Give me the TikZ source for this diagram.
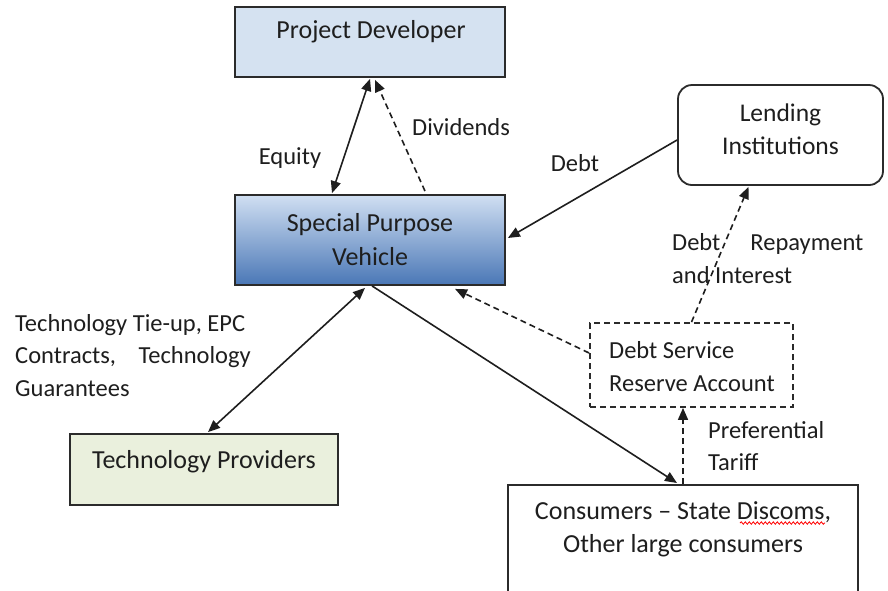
\documentclass[tikz,border=0pt]{standalone}
\usepackage{fontspec}
\setmainfont{Carlito}
\usetikzlibrary{arrows.meta,calc,decorations.pathmorphing}

\definecolor{ink}{HTML}{1E1E1E}
\definecolor{edge}{HTML}{2B2B2B}
\definecolor{pdfill}{HTML}{D5E2F1}
\definecolor{spvtop}{HTML}{D0DFF2}
\definecolor{spvbot}{HTML}{4A77B6}
\definecolor{techfill}{HTML}{EAF0DD}

\tikzset{
  box/.style={draw=edge, line width=1.8pt, rectangle, inner sep=0pt},
  txt/.style={text=ink, inner sep=0pt, font=\fontsize{24.5}{32.5}\selectfont},
  boxtxt/.style={txt, font=\fontsize{26}{34}\selectfont},
  flow/.style={draw=ink, line width=1.6pt, -{Triangle[length=12pt,width=10pt]}},
  twoway/.style={draw=ink, line width=1.6pt, {Triangle[length=12pt,width=10pt]}-{Triangle[length=12pt,width=10pt]}},
  cash/.style={flow, dash pattern=on 6pt off 4pt},
  spellmark/.style={draw=red, line width=0.8pt, decorate, decoration={snake, segment length=4pt, amplitude=1.2pt}},
}

\begin{document}
\begin{tikzpicture}[x=1pt,y=-1pt]
\useasboundingbox[fill=white] (0,0) rectangle (888,590);

% boxes
\node[box, fill=pdfill, minimum width=270pt, minimum height=70pt] (pd) at (370,42) {};
\node[box, top color=spvtop, bottom color=spvbot, minimum width=270pt, minimum height=90pt] (spv) at (370,240) {};
\node[box, fill=white, rounded corners=14pt, minimum width=205pt, minimum height=100pt] (lend) at (780.5,135) {};
\node[box, dashed, dash pattern=on 6pt off 4pt, minimum width=203pt, minimum height=84pt] (dsra) at (691.5,365) {};
\node[box, fill=techfill, minimum width=268pt, minimum height=71pt] (tech) at (204,469.5) {};
\node[box, fill=white, minimum width=350pt, minimum height=130pt, anchor=north] (cons) at (683,484) {};

% box texts
\node[boxtxt] (pdtxt) at (371,32) {Project Developer};
\node[boxtxt, align=center] (spvtxt) at (370,240) {Special Purpose\\Vehicle};
\node[boxtxt, font=\fontsize{25.5}{32.5}\selectfont, align=center] (lendtxt) at (780.5,129) {Lending\\Institutions};
\node[txt, align=left, anchor=west] (dsratxt) at (609,366.5) {Debt Service\\Reserve Account};
\node[boxtxt] (techtxt) at (204,462) {Technology Providers};
\node[boxtxt, font=\fontsize{26}{33}\selectfont, align=center] (constxt) at (683,529) {Consumers -- State Discoms,\\Other large consumers};
% red wavy mark under "Discoms"
\coordinate (waveA) at (740,523);
\coordinate (waveB) at (825,523);
\draw[spellmark] (waveA) -- (waveB);

% connectors
\draw[twoway] ($(pd.south)+(0,1)$) -- ($(spv.north)+(-38,-1)$);
\draw[cash] ($(spv.north)+(55,-3)$) -- ($(pd.south)+(5,2)$);
\draw[flow] ($(lend.west)+(0,5)$) -- ($(spv.east)+(2,-2)$);
\draw[cash] (dsra.north) -- ($(lend.south)+(-32,1)$);
\draw[cash] ($(dsra.west)+(0,-12)$) -- ($(spv.south)+(85,3)$);
\draw[twoway] ($(tech.north)+(4,-1)$) -- ($(spv.south)+(-5,2)$);
\draw[flow] ($(spv.south)+(2,0)$) -- ($(cons.north)+(-6,-1)$);
\draw[cash] (cons.north) -- (cons.north |- dsra.south);

% connector labels
\node[txt] (equity) at (290,158) {Equity};
\node[txt, anchor=west] (divid) at (412,127) {Dividends};
\node[txt] (debt) at (575,163) {Debt};
\node[txt, align=left, anchor=west] (repay) at (672,258.5) {Debt\hspace{30pt}Repayment\\and Interest};
\node[txt, align=left, anchor=west] (techlbl) at (15,355.5) {Technology Tie-up, EPC\\Contracts,\hspace{17pt} Technology\\Guarantees};
\node[txt, align=left, anchor=west] (tariff) at (708,446) {Preferential\\Tariff};
\end{tikzpicture}
\end{document}
